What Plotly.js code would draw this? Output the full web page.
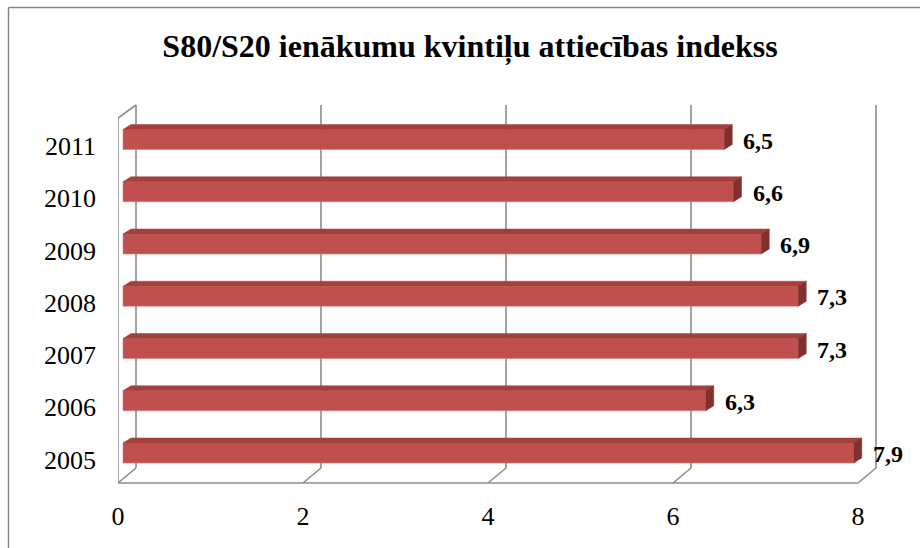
<!DOCTYPE html>
<html>
<head>
<meta charset="utf-8">
<script src="https://cdn.plot.ly/plotly-3.0.1.min.js"></script>
<style>html,body{margin:0;padding:0;background:#fff;}#chart{width:920px;height:548px;}</style>
</head>
<body>
<div id="chart"></div>
<script>
// ---- data ----
const years = ["2005", "2006", "2007", "2008", "2009", "2010", "2011"];
const values = [7.9, 6.3, 7.3, 7.3, 6.9, 6.6, 6.5];
const valueLabels = ["7,9", "6,3", "7,3", "7,3", "6,9", "6,6", "6,5"];
const xTicks = [0, 2, 4, 6, 8];
const xTickText = ["0", "2", "4", "6", "8"];
const chartTitle = "S80/S20 ienākumu kvintiļu attiecības indekss";

// ---- geometry / style ----
const W = 920, H = 548;
const pxPerX = 92.5;            // px per unit on the front plane
const frontLeft = 118;          // px where 0 sits on the front plane
const plotRight = 884;          // plot area extends past 8 so the back wall is not clipped
const M = {l: frontLeft, r: W - plotRight, t: 105, b: 65};
const plotW = plotRight - frontLeft, plotH = H - M.t - M.b;
const xMax = plotW / pxPerX;
const barFrontOffset = 5;       // px: bars' front face starts right of the front wall
const depthX = 18, depthY = 15; // px: back plane offset
const barDX = 8, barDY = 5;     // px: bar depth
const barCenterBottomPx = 453, barSpacing = 52.25;
const yLo = -(M.t + plotH - barCenterBottomPx) / barSpacing;
const yHi = (barCenterBottomPx - M.t) / barSpacing;
const barWidth = 20 / barSpacing;
const labelShift = 6.5 / barSpacing;
const pos = years.map((_, i) => i);

const serif = "Liberation Serif";
const front = "#C0504D", topC = "#A3403D", sideC = "#82302E", gridC = "#8C8C8C";

const px2paperX = p => (p - M.l) / plotW;
const px2paperY = p => (M.t + plotH - p) / plotH;

// 3D faces computed from values
const dxu = barDX / pxPerX, dyu = barDY / barSpacing;
const topX = [], topY = [], sideX = [], sideY = [];
values.forEach((v, i) => {
  const yt = pos[i] + barWidth / 2, yb = pos[i] - barWidth / 2;
  topX.push(0, v, v + dxu, dxu, 0, null);
  topY.push(yt, yt, yt + dyu, yt + dyu, yt, null);
  sideX.push(v, v + dxu, v + dxu, v, v, null);
  sideY.push(yt, yt + dyu, yb + dyu, yb, yt, null);
});

const traces = [
  {type: "bar", orientation: "h", x: values, y: pos, xaxis: "x2", yaxis: "y",
   width: barWidth, marker: {color: front, line: {color: "#D7827F", width: 0.6}},
   hoverinfo: "skip"},
  {type: "scatter", mode: "lines", x: topX, y: topY, xaxis: "x2", yaxis: "y",
   fill: "toself", fillcolor: topC, line: {color: topC, width: 0.5}, hoverinfo: "skip"},
  {type: "scatter", mode: "lines", x: sideX, y: sideY, xaxis: "x2", yaxis: "y",
   fill: "toself", fillcolor: sideC, line: {color: sideC, width: 0.5}, hoverinfo: "skip"}
];

const shapes = [];
const dX = depthX / pxPerX;
const backBottom = depthY / plotH;
const frontTop = px2paperY(118);
const gl = {color: gridC, width: 1.6};
xTicks.forEach(t => {
  shapes.push({type: "line", layer: "below", xref: "x", x0: t + dX, x1: t + dX,
    yref: "paper", y0: backBottom, y1: 1, line: gl});
  shapes.push({type: "line", layer: "below", xref: "x", x0: t, x1: t + dX,
    yref: "paper", y0: 0, y1: backBottom, line: gl});
});
shapes.push({type: "line", layer: "below", xref: "x", x0: xTicks[0], x1: xTicks[xTicks.length - 1],
  yref: "paper", y0: 0, y1: 0, line: gl});
shapes.push({type: "line", layer: "below", xref: "x", x0: 0, x1: 0,
  yref: "paper", y0: 0, y1: frontTop, line: gl});
shapes.push({type: "line", layer: "below", xref: "x", x0: 0, x1: dX,
  yref: "paper", y0: frontTop, y1: 1, line: gl});
// chart frame
shapes.push({type: "line", xref: "paper", yref: "paper", x0: px2paperX(8.5), x1: px2paperX(W), y0: px2paperY(7.5), y1: px2paperY(7.5),
  line: {color: "#868686", width: 1.5}});
shapes.push({type: "line", xref: "paper", yref: "paper", x0: px2paperX(8.5), x1: px2paperX(8.5), y0: px2paperY(7.5), y1: px2paperY(H),
  line: {color: "#868686", width: 1.5}});

const annotations = values.map((v, i) => ({
  xref: "x2", yref: "y", x: v, y: pos[i], xshift: 17, yshift: -1, xanchor: "left", yanchor: "middle",
  text: "<b>" + valueLabels[i] + "</b>", showarrow: false,
  font: {family: serif, size: 24, color: "#000"}
}));

const layout = {
  width: W, height: H,
  margin: M,
  paper_bgcolor: "#fff", plot_bgcolor: "rgba(0,0,0,0)",
  showlegend: false, hovermode: false,
  title: {text: "<b>" + chartTitle + "</b>", x: (470 - 0) / W, xanchor: "center", xref: "container",
    yref: "container", y: 1 - 46 / H, yanchor: "middle",
    font: {family: serif, size: 32, color: "#000"}},
  xaxis: {range: [0, xMax], tickvals: xTicks, ticktext: xTickText, showgrid: false, zeroline: false,
    showline: false, ticks: "", ticklabelstandoff: 15, fixedrange: true,
    tickfont: {family: serif, size: 26, color: "#000"}},
  xaxis2: {overlaying: "x", anchor: "y", range: [-barFrontOffset / pxPerX, xMax - barFrontOffset / pxPerX],
    visible: false, fixedrange: true},
  yaxis: {range: [yLo, yHi], tickvals: pos.map(p => p - labelShift), ticktext: years,
    showgrid: false, zeroline: false, showline: false, ticks: "", ticklabelstandoff: 21, fixedrange: true,
    tickfont: {family: serif, size: 26, color: "#000"}},
  shapes: shapes,
  annotations: annotations
};

Plotly.newPlot("chart", traces, layout, {displayModeBar: false, staticPlot: true});
</script>
</body>
</html>
